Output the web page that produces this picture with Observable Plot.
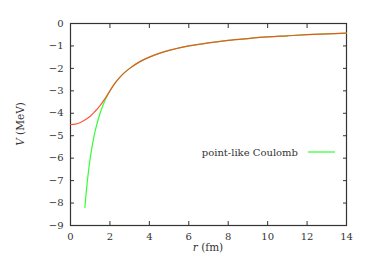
<!DOCTYPE html>
<html>
<head>
<meta charset="utf-8">
<script src="https://cdn.jsdelivr.net/npm/d3@7"></script>
<script src="https://cdn.jsdelivr.net/npm/@observablehq/plot@0.6"></script>
<style>
  html, body { margin: 0; padding: 0; background: #fff; }
  svg { display: block; }
</style>
</head>
<body>
<div id="chart"></div>
<script>
// r (fm) and V (MeV)
const pointR = [0.73, 0.8, 0.9, 1.0, 1.1, 1.2, 1.3, 1.4, 1.5, 1.6, 1.7, 1.8, 1.9, 2.0, 2.25, 2.5, 2.75, 3.0, 3.5, 4.0, 4.5, 5.0, 6.0, 7.0, 8.0, 9.0, 10.0, 11.0, 12.0, 13.0, 14.0];
const pointV = [-8.2, -7.5, -6.67, -6.0, -5.45, -5.0, -4.62, -4.29, -4.0, -3.75, -3.53, -3.33, -3.16, -3.0, -2.67, -2.4, -2.18, -2.0, -1.71, -1.5, -1.33, -1.2, -1.0, -0.86, -0.75, -0.67, -0.6, -0.55, -0.5, -0.46, -0.43];
const sphereR = [0, 0.25, 0.5, 0.75, 1.0, 1.25, 1.5, 1.75, 2.0, 2.25, 2.5, 2.75, 3.0, 3.5, 4.0, 4.5, 5.0, 6.0, 7.0, 8.0, 9.0, 10.0, 11.0, 12.0, 13.0, 14.0];
const sphereV = [-4.5, -4.48, -4.41, -4.29, -4.13, -3.91, -3.66, -3.35, -3.0, -2.67, -2.4, -2.18, -2.0, -1.71, -1.5, -1.33, -1.2, -1.0, -0.86, -0.75, -0.67, -0.6, -0.55, -0.5, -0.46, -0.43];
const xTicks = [0, 2, 4, 6, 8, 10, 12, 14];
const yTicks = [0, -1, -2, -3, -4, -5, -6, -7, -8, -9];
const legendLabel = "point-like Coulomb";

const pointData = pointR.map((r, i) => ({r, V: pointV[i]}));
const sphereData = sphereR.map((r, i) => ({r, V: sphereV[i]}));
const fmt = d => d < 0 ? "\u2212" + (-d) : String(d);
const font = "DejaVu Serif";

const chart = Plot.plot({
  width: 384,
  height: 271,
  marginLeft: 70,
  marginRight: 38,
  marginTop: 23,
  marginBottom: 46,
  style: {fontFamily: font, fontSize: "10px", color: "#333", background: "#fff"},
  x: {domain: [0, 14]},
  y: {domain: [-9, 0]},
  marks: [
    Plot.frame({stroke: "#333", strokeWidth: 1.2}),
    Plot.axisX(xTicks, {anchor: "bottom", tickSize: 0, tickPadding: 7, tickFormat: fmt, label: null}),
    Plot.axisX(xTicks, {anchor: "bottom", tickSize: -4, tickFormat: () => "", label: null, stroke: "#333"}),
    Plot.axisX(xTicks, {anchor: "top", tickSize: -4, tickFormat: () => "", label: null, stroke: "#333"}),
    Plot.axisY(yTicks, {anchor: "left", tickSize: 0, tickPadding: 7, tickFormat: fmt, label: null}),
    Plot.axisY(yTicks, {anchor: "left", tickSize: -4, tickFormat: () => "", label: null, stroke: "#333"}),
    Plot.axisY(yTicks, {anchor: "right", tickSize: -4, tickFormat: () => "", label: null, stroke: "#333"}),
    Plot.line(pointData, {x: "r", y: "V", stroke: "#33ff33", strokeWidth: 1.2, curve: "catmull-rom"}),
    Plot.line(sphereData, {x: "r", y: "V", stroke: "#ff4422", strokeOpacity: 0.9, strokeWidth: 1.2, curve: "catmull-rom"})
  ]
});
document.getElementById("chart").append(chart);

// axis titles and legend
const svg = d3.select(chart);
const yl = svg.append("text")
  .attr("transform", "translate(24,124) rotate(-90)")
  .attr("text-anchor", "middle")
  .attr("font-family", font).attr("font-size", 10.5).attr("fill", "#333");
yl.append("tspan").attr("font-style", "italic").text("V");
yl.append("tspan").text(" (MeV)");
const xl = svg.append("text")
  .attr("x", 208).attr("y", 251)
  .attr("text-anchor", "middle")
  .attr("font-family", font).attr("font-size", 10.5).attr("fill", "#333");
xl.append("tspan").attr("font-style", "italic").text("r");
xl.append("tspan").text(" (fm)");
svg.append("text")
  .attr("x", 298).attr("y", 156)
  .attr("text-anchor", "end")
  .attr("font-family", font).attr("font-size", 10).attr("fill", "#333")
  .text(legendLabel);
svg.append("line")
  .attr("x1", 308).attr("x2", 335).attr("y1", 152).attr("y2", 152)
  .attr("stroke", "#33ff33").attr("stroke-width", 1.2);
</script>
</body>
</html>
